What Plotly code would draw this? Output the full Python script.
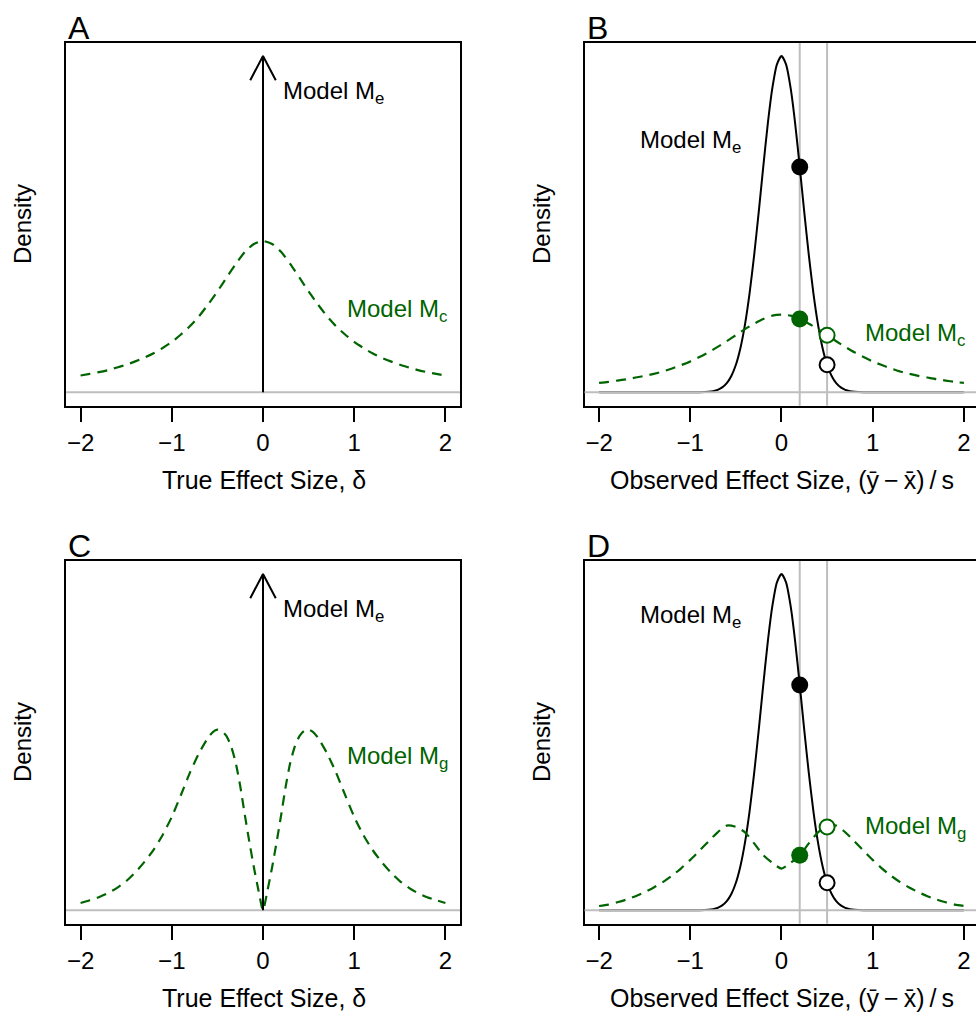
import plotly.graph_objects as go
from plotly.subplots import make_subplots

# ---------------- data (densities scaled to each panel's max = 1) ----------------
TICKS = [-2, -1, 0, 1, 2]
TICK_TEXT = ["\u22122", "\u22121", "0", "1", "2"]

# common grid for the smooth green curves (A, B, D)
GX = [-2.0, -1.9, -1.8, -1.7, -1.6, -1.5, -1.4, -1.3, -1.2, -1.1, -1.0, -0.9, -0.8, -0.7, -0.6,
      -0.5, -0.4, -0.3, -0.2, -0.1, 0.0, 0.1, 0.2, 0.3, 0.4, 0.5, 0.6, 0.7, 0.8, 0.9, 1.0,
      1.1, 1.2, 1.3, 1.4, 1.5, 1.6, 1.7, 1.8, 1.9, 2.0]

# Panel A: prior of model Mc on true effect size
A_MC = [0.050, 0.055, 0.060, 0.066, 0.074, 0.082, 0.092, 0.103, 0.116, 0.132, 0.150, 0.172, 0.197,
        0.227, 0.262, 0.300, 0.341, 0.381, 0.417, 0.441, 0.450, 0.441, 0.417, 0.381, 0.341, 0.300,
        0.262, 0.227, 0.197, 0.172, 0.150, 0.132, 0.116, 0.103, 0.092, 0.082, 0.074, 0.066, 0.060,
        0.055, 0.050]

# Panel B: predicted observed effect size under Mc
B_MC = [0.028, 0.031, 0.035, 0.039, 0.044, 0.049, 0.055, 0.062, 0.071, 0.081, 0.092, 0.105, 0.119,
        0.135, 0.152, 0.170, 0.188, 0.204, 0.218, 0.228, 0.231, 0.228, 0.218, 0.204, 0.188, 0.170,
        0.152, 0.135, 0.119, 0.105, 0.092, 0.081, 0.071, 0.062, 0.055, 0.049, 0.044, 0.039, 0.035,
        0.031, 0.028]

# Panel D: predicted observed effect size under Mg
D_MG = [0.013, 0.017, 0.024, 0.032, 0.042, 0.054, 0.068, 0.084, 0.103, 0.125, 0.150, 0.177, 0.205,
        0.232, 0.252, 0.248, 0.232, 0.199, 0.164, 0.141, 0.124, 0.141, 0.164, 0.199, 0.232, 0.248,
        0.252, 0.232, 0.205, 0.177, 0.150, 0.125, 0.103, 0.084, 0.068, 0.054, 0.042, 0.032, 0.024,
        0.017, 0.013]

# Panel C: prior of model Mg on true effect size (finer grid near zero)
C_X = [-2.0, -1.9, -1.8, -1.7, -1.6, -1.5, -1.4, -1.3, -1.2, -1.1, -1.0, -0.9, -0.8, -0.7, -0.6,
       -0.55, -0.5, -0.45, -0.4, -0.35, -0.3, -0.25, -0.2, -0.15, -0.1, -0.05, 0.0,
       0.05, 0.1, 0.15, 0.2, 0.25, 0.3, 0.35, 0.4, 0.45, 0.5, 0.55,
       0.6, 0.7, 0.8, 0.9, 1.0, 1.1, 1.2, 1.3, 1.4, 1.5, 1.6, 1.7, 1.8, 1.9, 2.0]
C_MG = [0.022, 0.030, 0.039, 0.051, 0.067, 0.087, 0.113, 0.144, 0.180, 0.224, 0.278, 0.343, 0.410,
        0.468, 0.514,
        0.530, 0.537, 0.533, 0.518, 0.488, 0.440, 0.370, 0.285, 0.204, 0.128, 0.060, 0.0,
        0.060, 0.128, 0.204, 0.285, 0.370, 0.440, 0.488, 0.518, 0.533, 0.537, 0.530,
        0.514, 0.468, 0.410, 0.343, 0.278, 0.224, 0.180, 0.144, 0.113, 0.087, 0.067, 0.051, 0.039,
        0.030, 0.022]

# Panels B & D: predicted observed effect size under Me (point null)
E_X = [-2.0, -1.5, -1.2, -1.0, -0.9, -0.8, -0.75, -0.7, -0.65, -0.6, -0.55, -0.5, -0.45, -0.4,
       -0.35, -0.3, -0.25, -0.2, -0.15, -0.1, -0.05, 0.0, 0.05, 0.1, 0.15, 0.2, 0.25, 0.3, 0.35,
       0.4, 0.45, 0.5, 0.55, 0.6, 0.65, 0.7, 0.75, 0.8, 0.9, 1.0, 1.2, 1.5, 2.0]
E_Y = [0.0, 0.0, 0.0, 0.0, 0.0003, 0.0017, 0.0036, 0.0074, 0.0146, 0.0273, 0.0486, 0.082, 0.132,
       0.202, 0.294, 0.407, 0.535, 0.670, 0.799, 0.905, 0.975, 1.0, 0.975, 0.905, 0.799, 0.670,
       0.535, 0.407, 0.294, 0.202, 0.132, 0.082, 0.0486, 0.0273, 0.0146, 0.0074, 0.0036, 0.0017,
       0.0003, 0.0, 0.0, 0.0, 0.0]

# Point mass of Me at delta = 0
ME_DELTA = 0.0
ME_HEIGHT = 1.0

# Observed effect sizes (vertical reference lines) and densities at them
OBS = [0.2, 0.5]
B_E_AT_OBS = [0.670, 0.082]
B_C_AT_OBS = [0.218, 0.170]
D_E_AT_OBS = [0.670, 0.082]
D_G_AT_OBS = [0.164, 0.248]

# ---------------- styling ----------------
W, H = 976, 1015
GREEN = "#006400"
GRAY = "#BEBEBE"
FONT = "Liberation Sans, Arial, Helvetica, sans-serif"
DASH = "10px,7px"
HEAD_DX = 0.14   # arrow head half width (x units)
HEAD_DY = 0.072  # arrow head drop (y units)

fig = make_subplots(rows=2, cols=2)
AX = {(1, 1): ("x", "y"), (1, 2): ("x2", "y2"), (2, 1): ("x3", "y3"), (2, 2): ("x4", "y4")}


def hline0(row, col, layer):
    xa, ya = AX[(row, col)]
    fig.add_shape(type="line", xref=xa + " domain", yref=ya, x0=0, x1=1, y0=0, y1=0,
                  line=dict(color=GRAY, width=2), layer=layer)


def vline(row, col, xv):
    xa, ya = AX[(row, col)]
    fig.add_shape(type="line", xref=xa, yref=ya + " domain", x0=xv, x1=xv, y0=0, y1=1,
                  line=dict(color=GRAY, width=2), layer="below")


def add_prior_panel(row, prior_x, prior_y):
    hline0(row, 1, "below")
    fig.add_trace(go.Scatter(x=prior_x, y=prior_y, mode="lines",
                             line=dict(color=GREEN, width=2.2, dash=DASH, shape="spline", smoothing=0.6),
                             hoverinfo="skip"), row=row, col=1)
    fig.add_trace(go.Scatter(x=[ME_DELTA, ME_DELTA], y=[0, ME_HEIGHT], mode="lines",
                             line=dict(color="black", width=2), hoverinfo="skip"), row=row, col=1)
    fig.add_trace(go.Scatter(x=[ME_DELTA - HEAD_DX, ME_DELTA, ME_DELTA + HEAD_DX],
                             y=[ME_HEIGHT - HEAD_DY, ME_HEIGHT, ME_HEIGHT - HEAD_DY], mode="lines",
                             line=dict(color="black", width=2), hoverinfo="skip"), row=row, col=1)


def add_pred_panel(row, alt_x, alt_y, e_at, alt_at):
    for xv in OBS:
        vline(row, 2, xv)
    fig.add_trace(go.Scatter(x=E_X, y=E_Y, mode="lines",
                             line=dict(color="black", width=2, shape="spline", smoothing=0.6),
                             hoverinfo="skip"), row=row, col=2)
    fig.add_trace(go.Scatter(x=alt_x, y=alt_y, mode="lines",
                             line=dict(color=GREEN, width=2.2, dash=DASH, shape="spline", smoothing=0.6),
                             hoverinfo="skip"), row=row, col=2)
    hline0(row, 2, "above")
    # filled points (first observation) and open points (second observation)
    fig.add_trace(go.Scatter(x=[OBS[0]], y=[e_at[0]], mode="markers",
                             marker=dict(size=17, color="black", line=dict(width=0)),
                             hoverinfo="skip"), row=row, col=2)
    fig.add_trace(go.Scatter(x=[OBS[0]], y=[alt_at[0]], mode="markers",
                             marker=dict(size=17, color=GREEN, line=dict(width=0)),
                             hoverinfo="skip"), row=row, col=2)
    fig.add_trace(go.Scatter(x=[OBS[1]], y=[e_at[1]], mode="markers",
                             marker=dict(size=15, color="white", line=dict(width=2, color="black")),
                             hoverinfo="skip"), row=row, col=2)
    fig.add_trace(go.Scatter(x=[OBS[1]], y=[alt_at[1]], mode="markers",
                             marker=dict(size=15, color="white", line=dict(width=2, color=GREEN)),
                             hoverinfo="skip"), row=row, col=2)


add_prior_panel(1, GX, A_MC)
add_prior_panel(2, C_X, C_MG)
add_pred_panel(1, GX, B_MC, B_E_AT_OBS, B_C_AT_OBS)
add_pred_panel(2, GX, D_MG, D_E_AT_OBS, D_G_AT_OBS)

# ---------------- axes / layout ----------------
XDOM_L = [66 / W, 460 / W]
XDOM_R = [584.5 / W, 1.0]
YDOM_T = [1 - 405.8 / H, 1 - 42.5 / H]
YDOM_B = [1 - 923.8 / H, 1 - 560.5 / H]
XR_L = [-2.16, 2.16]
XR_R = [-2.16, -2.16 + (W - 584.5) / 91.2]
YR = [-0.04, 1.04]

xcommon = dict(tickmode="array", tickvals=TICKS, ticktext=TICK_TEXT, ticks="outside", ticklen=14,
               tickwidth=1.5, tickcolor="black", showticklabels=True, ticklabelposition="outside",
               showgrid=False, zeroline=False, showline=True, linewidth=2,
               linecolor="black", mirror=True, tickfont=dict(family=FONT, size=24, color="black"),
               ticklabelstandoff=0, automargin=False, fixedrange=True)
ycommon = dict(range=YR, showticklabels=False, ticks="", showgrid=False, zeroline=False,
               showline=True, linewidth=2, linecolor="black", automargin=False, fixedrange=True)

fig.update_layout(
    xaxis=dict(domain=XDOM_L, range=XR_L, **xcommon),
    xaxis2=dict(domain=XDOM_R, range=XR_R, **xcommon),
    xaxis3=dict(domain=XDOM_L, range=XR_L, **xcommon),
    xaxis4=dict(domain=XDOM_R, range=XR_R, **xcommon),
    yaxis=dict(domain=YDOM_T, mirror=True, **ycommon),
    yaxis2=dict(domain=YDOM_T, mirror=False, **ycommon),
    yaxis3=dict(domain=YDOM_B, mirror=True, **ycommon),
    yaxis4=dict(domain=YDOM_B, mirror=False, **ycommon),
)


def ann(text, xpx, ypx, size=24, color="black", xanchor="left", yanchor="middle", angle=0):
    fig.add_annotation(text=text, x=xpx / W, y=1 - ypx / H, xref="paper", yref="paper",
                       xanchor=xanchor, yanchor=yanchor, showarrow=False, textangle=angle,
                       font=dict(family=FONT, size=size, color=color))


# panel letters
ann("A", 66, 28, size=32)
ann("B", 585, 28, size=32)
ann("C", 66, 546, size=32)
ann("D", 585, 546, size=32)

# y titles
for xp in (22, 541):
    for yp in (224, 742):
        ann("Density", xp, yp, xanchor="center", angle=-90)

# x titles
XT_TRUE = "True Effect Size, \u03b4"
XT_OBS = "Observed Effect Size, (\u0233\u2009\u2212\u2009x\u0304)\u2009/\u2009s"
ann(XT_TRUE, 263.5, 480, size=25, xanchor="center")
ann(XT_TRUE, 263.5, 998, size=25, xanchor="center")
ann(XT_OBS, 781.5, 480, size=25, xanchor="center")
ann(XT_OBS, 781.5, 998, size=25, xanchor="center")

# model labels
ann("Model M<sub>e</sub>", 281, 92)
ann("Model M<sub>c</sub>", 345, 310, color=GREEN)
ann("Model M<sub>e</sub>", 638, 142)
ann("Model M<sub>c</sub>", 863, 334, color=GREEN)
ann("Model M<sub>e</sub>", 281, 610)
ann("Model M<sub>g</sub>", 345, 757, color=GREEN)
ann("Model M<sub>e</sub>", 638, 616)
ann("Model M<sub>g</sub>", 863, 827, color=GREEN)

fig.update_layout(width=W, height=H, margin=dict(l=0, r=0, t=0, b=0),
                  paper_bgcolor="white", plot_bgcolor="white", showlegend=False)

fig.write_html("out.html", config={"displayModeBar": False})
